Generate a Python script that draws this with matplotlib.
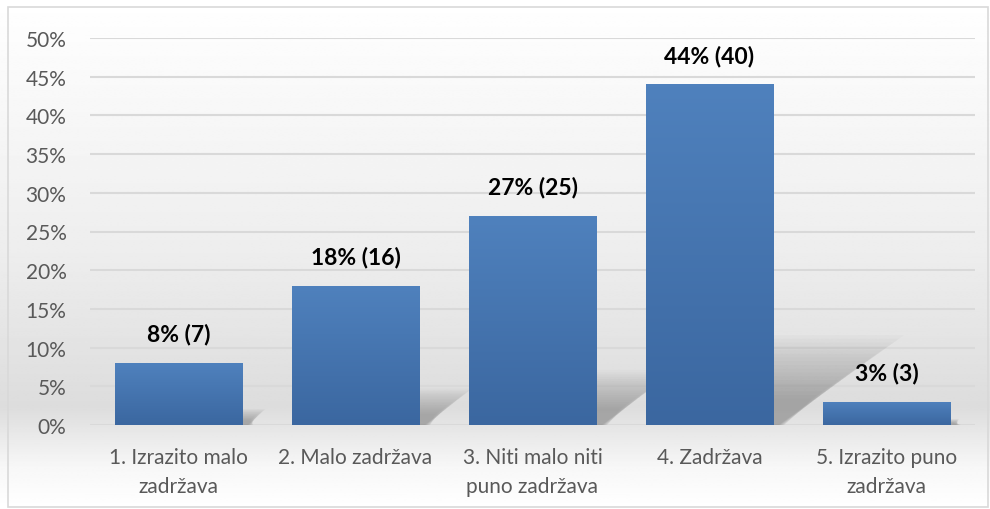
import matplotlib.pyplot as plt
import matplotlib.patches as mpatches
from matplotlib.colors import LinearSegmentedColormap
import numpy as np

# odgovori i broj ispitanika
labels = ['1. Izrazito malo\nzadržava', '2. Malo zadržava', '3. Niti malo niti\npuno zadržava',
          '4. Zadržava', '5. Izrazito puno\nzadržava']
postotak = [8, 18, 27, 44, 3]
broj = [7, 16, 25, 40, 3]

plt.rcParams['font.family'] = ['Lato', 'DejaVu Sans']

fig = plt.figure(figsize=(9.9, 5.1), dpi=100)

# background gradient over the whole chart
bg = fig.add_axes([0, 0, 1, 1], zorder=-10)
yy = np.linspace(0, 1, 300)
shade = np.interp(yy, [0, 0.08, 0.2, 0.5, 1.0], [1.0, 0.97, 0.865, 0.93, 1.0])
img = np.repeat(shade[:, None], 2, axis=1)
bg.imshow(img, extent=[0, 1, 0, 1], origin='lower', cmap='gray', vmin=0, vmax=1,
          aspect='auto', interpolation='bilinear')
bg.add_patch(mpatches.Rectangle((8/990, 2/510), 980/990, 500/510, fill=False,
                                edgecolor='#d9d9d9', lw=1.2))
bg.set_xlim(0, 1)
bg.set_ylim(0, 1)
bg.axis('off')

ax = fig.add_axes([90/990, 1-426/510, 885/990, 387/510])
ax.patch.set_alpha(0)
x = np.arange(len(postotak))
w = 0.72

# soft shadows behind bars (stacked faint polygons)
for i, v in enumerate(postotak):
    xr = i + w/2
    for j in range(18):
        f = 1.2 - j*0.05
        h = 0.22*v*f
        d = 0.014*v*f
        e = 0.04*(1.2 - f)
        poly = mpatches.Polygon([(xr, 0), (xr, h), (xr + d, h), (xr + 0.03 + e, 0)],
                                closed=True, facecolor='#606060', edgecolor='none',
                                alpha=0.028, zorder=1)
        ax.add_patch(poly)

bars = ax.bar(x, postotak, width=w, color='#4a7ab5', zorder=2)
grad = np.linspace(0, 1, 100)[:, None]
cm = LinearSegmentedColormap.from_list('b', ['#3b67a0', '#4f81bd'])
for b in bars:
    bx = b.get_x()
    im = ax.imshow(grad, extent=[bx, bx + b.get_width(), 0, b.get_height()], origin='lower',
                   cmap=cm, aspect='auto', zorder=3, interpolation='bilinear')
    im.set_clip_path(b)

for i, (p, n) in enumerate(zip(postotak, broj)):
    ax.text(i, p + 2.4, f'{p}% ({n})', ha='center', va='bottom', fontsize=16.5,
            fontweight='bold', color='black', zorder=4)

ax.set_xlim(-0.5, 4.5)
ax.set_ylim(0, 50)
ax.set_yticks(np.arange(0, 51, 5))
ax.set_yticklabels([f'{t}%' for t in range(0, 51, 5)])
ax.set_xticks(x)
ax.set_xticklabels(labels, linespacing=1.55)
ax.tick_params(axis='both', length=0, labelsize=15, labelcolor='#595959')
ax.tick_params(axis='y', pad=17)
ax.tick_params(axis='x', pad=16)
ax.grid(axis='y', color='#d9d9d9', lw=1.5, zorder=0)
ax.set_axisbelow(True)
for s in ax.spines.values():
    s.set_visible(False)

plt.savefig('out.png', dpi=100)
